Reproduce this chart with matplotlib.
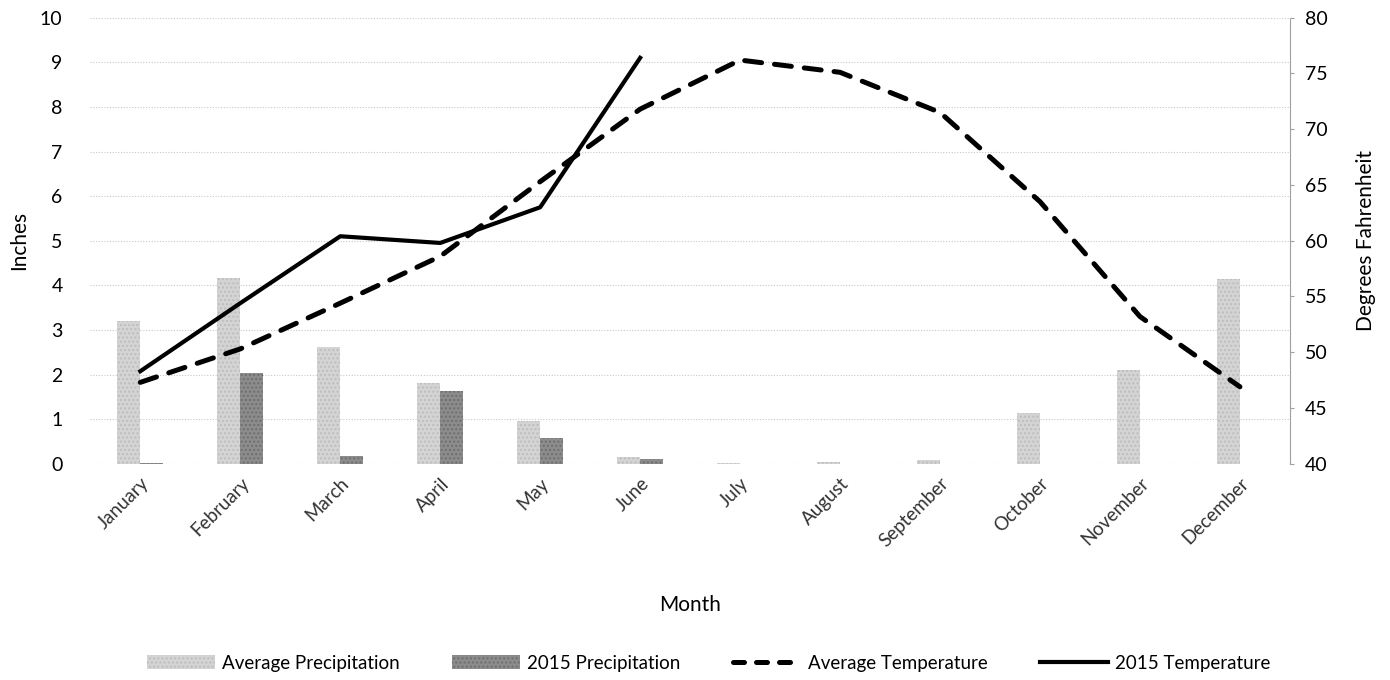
import matplotlib.pyplot as plt
from matplotlib.patches import Patch
from matplotlib.lines import Line2D
import numpy as np

plt.rcParams['font.family'] = ['Lato', 'DejaVu Sans']

months = ["January", "February", "March", "April", "May", "June", "July",
          "August", "September", "October", "November", "December"]
avg_precip = [3.20, 4.17, 2.62, 1.81, 0.96, 0.15, 0.02, 0.03, 0.08, 1.14, 2.11, 4.15]
precip_2015 = [0.02, 2.04, 0.18, 1.64, 0.58, 0.10]
avg_temp = [47.3, 50.3, 54.4, 58.6, 65.3, 71.8, 76.2, 75.1, 71.5, 63.5, 53.2, 46.9]
temp_2015 = [48.3, 54.4, 60.4, 59.8, 63.0, 76.4]

fig = plt.figure(figsize=(13.9, 6.8), dpi=100)
ax = fig.add_axes([0.065, 0.318, 0.863, 0.656])
ax2 = ax.twinx()

x = np.arange(len(months))
w = 0.23
ax.bar(x - w / 2, avg_precip, w, color="#d4d4d4", hatch="....", edgecolor="#bdbdbd",
       linewidth=0, zorder=2)
x15 = np.arange(len(precip_2015))
ax.bar(x15 + w / 2, precip_2015, w, color="#8c8c8c", hatch="....", edgecolor="#6e6e6e",
       linewidth=0, zorder=2)

ax2.plot(x, avg_temp, color="black", lw=3.6, dashes=(3.4, 2.6),
         dash_capstyle="round", zorder=3)
ax2.plot(x15, temp_2015, color="black", lw=3.0, zorder=3)

ax.set_ylim(0, 10)
ax.set_yticks(range(0, 11))
ax2.set_ylim(40, 80)
ax2.set_yticks(range(40, 81, 5))
ax.set_xlim(-0.5, 11.5)
ax.set_xticks(x)
ax.set_xticklabels(months, rotation=45, ha="right", rotation_mode="anchor",
                   fontsize=13.5, color="#333333")

ax.yaxis.grid(True, color="#c8c8c8", lw=0.8, ls=(0, (1, 1.5)), zorder=0)
ax.set_axisbelow(True)
for a in (ax, ax2):
    for s in ("top", "left", "bottom", "right"):
        a.spines[s].set_visible(False)
ax2.spines["right"].set_visible(True)
ax2.spines["right"].set_color("#a0a0a0")
ax2.spines["right"].set_linestyle((0, (1, 1)))

ax.tick_params(axis="y", length=0, labelsize=14, pad=20)
ax.tick_params(axis="x", length=0, pad=8)
ax2.tick_params(axis="y", length=3, color="#a0a0a0", labelsize=14, pad=8)

ax.set_ylabel("Inches", fontsize=15, labelpad=8)
ax2.set_ylabel("Degrees Fahrenheit", fontsize=15, labelpad=20)
ax.set_xlabel("Month", fontsize=15, labelpad=32)

handles = [
    Patch(facecolor="#d4d4d4", hatch="....", edgecolor="#bdbdbd", linewidth=0,
          label="Average Precipitation"),
    Patch(facecolor="#8c8c8c", hatch="....", edgecolor="#6e6e6e", linewidth=0,
          label="2015 Precipitation"),
    Line2D([0], [0], color="black", lw=3.6, dashes=(2.2, 2.4), dash_capstyle="round",
           label="Average Temperature"),
    Line2D([0], [0], color="black", lw=3.0, label="2015 Temperature"),
]
fig.legend(handles=handles, loc="center", bbox_to_anchor=(0.51, 0.025), ncol=4,
           frameon=False, fontsize=13.5, handlelength=3.6, handleheight=0.8,
           handletextpad=0.4, columnspacing=2.8)

fig.savefig("out.png", dpi=100)
